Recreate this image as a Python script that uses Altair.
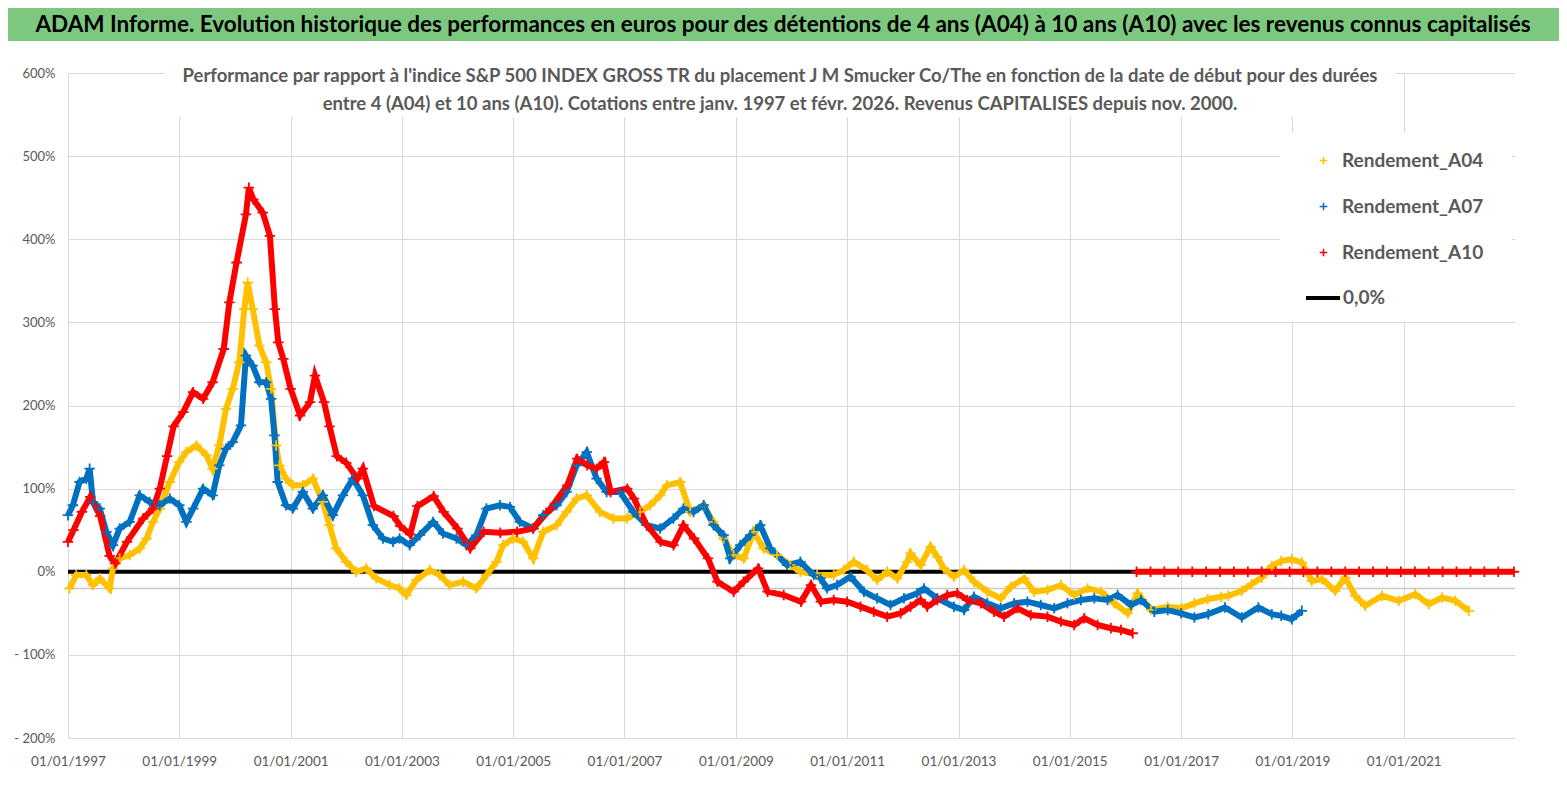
import altair as alt
import pandas as pd

# ---------------- data ----------------
A04_YEARS = [1997.03, 1997.15, 1997.33, 1997.45, 1997.57, 1997.75, 1997.81, 1997.93, 1998.11, 1998.29,
             1998.41, 1998.53, 1998.65, 1998.83, 1999.0, 1999.13, 1999.31, 1999.49, 1999.6, 1999.72,
             1999.84, 1999.96, 2000.08, 2000.17, 2000.23, 2000.32, 2000.44, 2000.56, 2000.65, 2000.74,
             2000.8, 2000.92, 2001.04, 2001.22, 2001.4, 2001.58, 2001.7, 2001.82, 2002.0, 2002.18,
             2002.36, 2002.54, 2002.78, 2002.96, 2003.08, 2003.26, 2003.5, 2003.68, 2003.86, 2004.1,
             2004.34, 2004.52, 2004.7, 2004.82, 2005.0, 2005.18, 2005.36, 2005.54, 2005.78, 2005.96,
             2006.14, 2006.32, 2006.56, 2006.8, 2007.04, 2007.28, 2007.46, 2007.64, 2007.76, 2008.0,
             2008.18, 2008.42, 2008.6, 2008.78, 2008.96, 2009.14, 2009.32, 2009.5, 2009.74, 2009.98,
             2010.16, 2010.46, 2010.76, 2010.94, 2011.12, 2011.36, 2011.54, 2011.72, 2011.9, 2012.08,
             2012.14, 2012.32, 2012.5, 2012.62, 2012.74, 2012.92, 2013.1, 2013.28, 2013.52, 2013.76,
             2013.94, 2014.18, 2014.36, 2014.6, 2014.84, 2015.08, 2015.32, 2015.56, 2015.8, 2016.04,
             2016.22, 2016.46, 2016.76, 2017.0, 2017.24, 2017.48, 2017.72, 2017.85, 2018.09, 2018.27,
             2018.45, 2018.63, 2018.8, 2018.99, 2019.17, 2019.35, 2019.53, 2019.77, 2019.95, 2020.13,
             2020.31, 2020.61, 2020.91, 2021.21, 2021.45, 2021.69, 2021.93, 2022.17]
A04_VALUES = [-20, -4, -4, -16, -8, -20, 4, 16, 20, 28,
              40, 60, 76, 108, 132, 144, 152, 140, 124, 152,
              196, 220, 252, 316, 348, 316, 272, 252, 220, 152,
              128, 112, 104, 104, 112, 84, 56, 28, 12, 0,
              4, -8, -16, -20, -28, -10, 2, -4, -16, -12,
              -20, -4, 12, 32, 40, 36, 16, 48, 56, 72,
              88, 92, 72, 64, 64, 72, 80, 92, 104, 108,
              72, 80, 60, 40, 20, 16, 48, 28, 20, 8,
              0, -4, -4, 2, 12, 2, -10, 0, -8, 12,
              22, 8, 30, 18, 4, -6, 2, -12, -24, -32,
              -18, -8, -24, -22, -16, -28, -20, -24, -38, -50,
              -26, -46, -42, -44, -38, -33, -30, -29, -23, -15,
              -7, 7, 13, 15, 11, -11, -9, -23, -7, -29,
              -41, -29, -35, -27, -39, -31, -35, -47]

A07_YEARS = [1997.0, 1997.09, 1997.21, 1997.33, 1997.39, 1997.45, 1997.57, 1997.69, 1997.81, 1997.93,
             1998.11, 1998.29, 1998.47, 1998.65, 1998.83, 1999.0, 1999.13, 1999.25, 1999.43, 1999.6,
             1999.72, 1999.84, 1999.96, 2000.11, 2000.2, 2000.32, 2000.44, 2000.56, 2000.65, 2000.71,
             2000.77, 2000.92, 2001.04, 2001.22, 2001.4, 2001.58, 2001.76, 2001.94, 2002.12, 2002.3,
             2002.48, 2002.66, 2002.84, 2002.96, 2003.14, 2003.32, 2003.56, 2003.74, 2003.98, 2004.16,
             2004.34, 2004.52, 2004.76, 2004.94, 2005.12, 2005.36, 2005.54, 2005.78, 2005.96, 2006.14,
             2006.32, 2006.5, 2006.68, 2006.92, 2007.16, 2007.4, 2007.64, 2007.88, 2008.06, 2008.24,
             2008.42, 2008.6, 2008.78, 2008.9, 2009.08, 2009.26, 2009.44, 2009.62, 2009.92, 2010.16,
             2010.4, 2010.52, 2010.64, 2010.82, 2011.06, 2011.3, 2011.54, 2011.78, 2012.02, 2012.26,
             2012.38, 2012.62, 2012.92, 2013.1, 2013.28, 2013.52, 2013.76, 2014.0, 2014.24, 2014.48,
             2014.72, 2014.96, 2015.2, 2015.44, 2015.68, 2015.86, 2016.1, 2016.28, 2016.52, 2016.76,
             2017.0, 2017.24, 2017.49, 2017.79, 2018.09, 2018.39, 2018.63, 2018.8, 2018.99, 2019.17]
A07_VALUES = [68, 80, 108, 112, 124, 84, 76, 48, 32, 52,
              60, 92, 84, 80, 88, 80, 60, 76, 100, 92,
              128, 148, 156, 176, 260, 248, 228, 228, 208, 164,
              108, 80, 76, 96, 76, 92, 68, 92, 112, 92,
              56, 40, 36, 40, 32, 44, 60, 46, 40, 32,
              44, 76, 80, 78, 60, 52, 68, 80, 96, 128,
              144, 112, 96, 96, 72, 56, 52, 64, 76, 72,
              80, 56, 44, 16, 32, 44, 56, 28, 8, 12,
              -4, -8, -20, -16, -6, -24, -32, -40, -32, -26,
              -20, -32, -42, -46, -30, -38, -44, -38, -36, -40,
              -44, -38, -34, -32, -34, -28, -40, -34, -48, -46,
              -50, -55, -51, -43, -55, -43, -51, -53, -57, -47]

A10_YEARS = [1997.0, 1997.1, 1997.25, 1997.4, 1997.58, 1997.75, 1997.85, 1998.06, 1998.35, 1998.53,
             1998.65, 1998.78, 1998.9, 1999.07, 1999.25, 1999.43, 1999.6, 1999.8, 1999.9, 2000.03,
             2000.2, 2000.25, 2000.33, 2000.5, 2000.63, 2000.72, 2000.78, 2000.87, 2001.0, 2001.17,
             2001.35, 2001.44, 2001.6, 2001.7, 2001.83, 2002.0, 2002.2, 2002.3, 2002.5, 2002.85,
             2002.97, 2003.15, 2003.28, 2003.57, 2003.75, 2004.0, 2004.23, 2004.47, 2004.77, 2005.07,
             2005.36, 2005.67, 2005.97, 2006.15, 2006.33, 2006.5, 2006.63, 2006.75, 2007.05, 2007.17,
             2007.4, 2007.65, 2007.88, 2008.06, 2008.25, 2008.5, 2008.67, 2008.96, 2009.14, 2009.4,
             2009.57, 2009.86, 2010.17, 2010.35, 2010.53, 2010.76, 2011.0, 2011.24, 2011.48, 2011.72,
             2011.96, 2012.14, 2012.32, 2012.44, 2012.62, 2012.8, 2012.98, 2013.16, 2013.4, 2013.64,
             2013.82, 2014.06, 2014.3, 2014.6, 2014.84, 2015.08, 2015.26, 2015.5, 2015.74, 2015.92,
             2016.13]
A10_VALUES = [36, 50, 72, 90, 67, 19, 10, 36, 64, 76,
              100, 139, 175, 192, 216, 208, 228, 268, 324, 372,
              430, 462, 448, 432, 404, 316, 276, 256, 220, 188,
              204, 236, 204, 175, 139, 131, 112, 124, 79, 67,
              55, 45, 79, 91, 72, 52, 28, 48, 47, 48,
              52, 76, 104, 136, 128, 124, 132, 96, 100, 88,
              56, 36, 32, 56, 40, 16, -12, -24, -12, 4,
              -24, -28, -36, -16, -36, -34, -36, -42, -48, -54,
              -50, -42, -34, -42, -34, -28, -26, -34, -38, -48,
              -54, -44, -52, -54, -60, -64, -56, -64, -68, -70,
              -74]

# after the last complete 10-year window the A10 series sits on 0
A10_TAIL_YEARS = [2016.2, 2016.45, 2016.7, 2016.95, 2017.2, 2017.45, 2017.7, 2017.95, 2018.2, 2018.45,
                  2018.7, 2018.95, 2019.2, 2019.45, 2019.7, 2019.95, 2020.2, 2020.45, 2020.7, 2020.95,
                  2021.2, 2021.45, 2021.7, 2021.95, 2022.2, 2022.45, 2022.7, 2022.98]
A10_TAIL_VALUES = [0] * len(A10_TAIL_YEARS)

SERIES = ["Rendement_A04", "Rendement_A07", "Rendement_A10"]
COLORS = ["#FFC000", "#0070C0", "#FF0000"]
X_TICK_YEARS = [1997, 1999, 2001, 2003, 2005, 2007, 2009, 2011, 2013, 2015, 2017, 2019, 2021]
Y_TICKS = [-200, -100, 0, 100, 200, 300, 400, 500, 600]
GUIDE_LINE = -20  # light grey horizontal line just under 0 %

TITLE = ("ADAM Informe. Evolution historique des performances en euros pour des détentions "
         "de 4 ans (A04) à 10 ans (A10) avec les revenus connus capitalisés")
SUB1 = ("Performance par rapport à l'indice S&P 500 INDEX GROSS TR  du placement J M Smucker Co/The "
        "en fonction de la date de début pour des durées")
SUB2 = ("entre 4 (A04) et 10 ans (A10). Cotations entre janv. 1997 et févr. 2026. "
        "Revenus CAPITALISES depuis nov. 2000.")

FONT = "Lato, Liberation Sans, sans-serif"
GREY = "#595959"
CROSS = "M-1,0L1,0M0,-1L0,1"


def to_iso(y):
    d = pd.Timestamp("1997-01-01") + pd.to_timedelta((y - 1997.0) * 365.25, unit="D")
    return d.strftime("%Y-%m-%d")


rows = []
for name, seg, yrs, vals in [
    (SERIES[0], "a04", A04_YEARS, A04_VALUES),
    (SERIES[1], "a07", A07_YEARS, A07_VALUES),
    (SERIES[2], "a10", A10_YEARS, A10_VALUES),
    (SERIES[2], "a10tail", A10_TAIL_YEARS, A10_TAIL_VALUES),
]:
    for y, v in zip(yrs, vals):
        rows.append({"date": to_iso(y), "value": v, "series": name, "seg": seg})
df = pd.DataFrame(rows)

W, H = 1447, 665

x_enc = alt.X(
    "date:T",
    scale=alt.Scale(domain=["1997-01-01", "2023-01-01"]),
    axis=alt.Axis(
        values=[alt.DateTime(year=y, month=1, date=1) for y in X_TICK_YEARS],
        format="%d/%m/%Y", labelAngle=0, grid=True, gridColor="#d9d9d9",
        domain=False, ticks=False, labelPadding=16, labelFontSize=13.5,
        labelColor=GREY, labelFont=FONT, labelOverlap=False, labelFlush=False,
        labelBound=False, title=None,
    ),
)
y_enc = alt.Y(
    "value:Q",
    scale=alt.Scale(domain=[-200, 600], nice=False),
    axis=alt.Axis(
        values=Y_TICKS,
        labelExpr="datum.value < 0 ? '- ' + (-datum.value) + '%' : datum.value + '%'",
        grid=True, gridColor="#d9d9d9", domain=False, ticks=False,
        labelPadding=13, labelFontSize=13, labelColor=GREY, labelFont=FONT, title=None,
    ),
)

one = pd.DataFrame({"k": [0]})

banner = alt.Chart(one).mark_rect(color="#7DC87F").encode(
    x=alt.value(-60), x2=alt.value(1491), y=alt.value(-65), y2=alt.value(-32))
banner_text = alt.Chart(one).mark_text(
    text=TITLE, font=FONT, fontSize=22.5, fontWeight="bold", color="#000000",
    align="center", baseline="middle").encode(x=alt.value(715), y=alt.value(-48))

sub_bg = alt.Chart(one).mark_rect(color="white").encode(
    x=alt.value(97), x2=alt.value(1327), y=alt.value(-10), y2=alt.value(44))
sub1 = alt.Chart(one).mark_text(
    text=SUB1, font=FONT, fontSize=18.5, fontWeight="bold", color=GREY,
    align="center", baseline="middle").encode(x=alt.value(712), y=alt.value(3))
sub2 = alt.Chart(one).mark_text(
    text=SUB2, font=FONT, fontSize=18.5, fontWeight="bold", color=GREY,
    align="center", baseline="middle").encode(x=alt.value(712), y=alt.value(31))

legend_bg = alt.Chart(one).mark_rect(color="white").encode(
    x=alt.value(1212), x2=alt.value(1444), y=alt.value(60), y2=alt.value(249))

guide = alt.Chart(pd.DataFrame({"v": [GUIDE_LINE]})).mark_rule(
    color="#c8c8c8", strokeWidth=1.5).encode(y=alt.Y("v:Q", scale=alt.Scale(domain=[-200, 600], nice=False)))

zero = alt.Chart(pd.DataFrame({"v": [0], "lab": ["0,0%"]})).mark_rule(strokeWidth=4).encode(
    y=alt.Y("v:Q", scale=alt.Scale(domain=[-200, 600], nice=False)),
    stroke=alt.Stroke("lab:N", scale=alt.Scale(domain=["0,0%"], range=["#000000"]),
                      legend=alt.Legend(title=None, orient="none", legendX=1236, legendY=206,
                                        symbolType="stroke", symbolSize=1156, symbolStrokeWidth=4,
                                        labelFontSize=19, labelFont=FONT, labelFontWeight="bold",
                                        labelColor=GREY, labelOffset=1, padding=0, labelLimit=300)),
)

base = alt.Chart(df)
line_layers = []
for name, seg, col in [(SERIES[0], "a04", COLORS[0]), (SERIES[1], "a07", COLORS[1]),
                       (SERIES[2], "a10", COLORS[2]), (SERIES[2], "a10tail", COLORS[2])]:
    line_layers.append(
        base.transform_filter(alt.datum.seg == seg).mark_line(strokeWidth=6, color=col)
        .encode(x=x_enc, y=y_enc)
    )

points = base.mark_point(shape=CROSS, filled=False, size=110, strokeWidth=1.8, opacity=1).encode(
    x=x_enc, y=y_enc,
    color=alt.Color("series:N", scale=alt.Scale(domain=SERIES, range=COLORS),
                    legend=alt.Legend(title=None, orient="none", legendX=1246, legendY=78,
                                      symbolType=CROSS, symbolSize=60, symbolStrokeWidth=1.5,
                                      labelFontSize=19, labelFont=FONT, labelFontWeight="bold",
                                      labelColor=GREY, labelOffset=9, rowPadding=26, padding=0,
                                      labelLimit=300)),
    order=alt.Order("seg:N"),
)

chart = alt.layer(
    guide, zero, *line_layers, points, sub_bg, sub1, sub2, legend_bg, banner, banner_text
).resolve_scale(color="independent", stroke="independent").properties(
    width=W, height=H,
    autosize=alt.AutoSizeParams(type="none"),
    padding={"left": 60, "top": 65, "right": 44, "bottom": 44},
    background="white",
).configure_view(stroke=None)

chart.save("out.html", embed_options={"renderer": "svg", "actions": False})
